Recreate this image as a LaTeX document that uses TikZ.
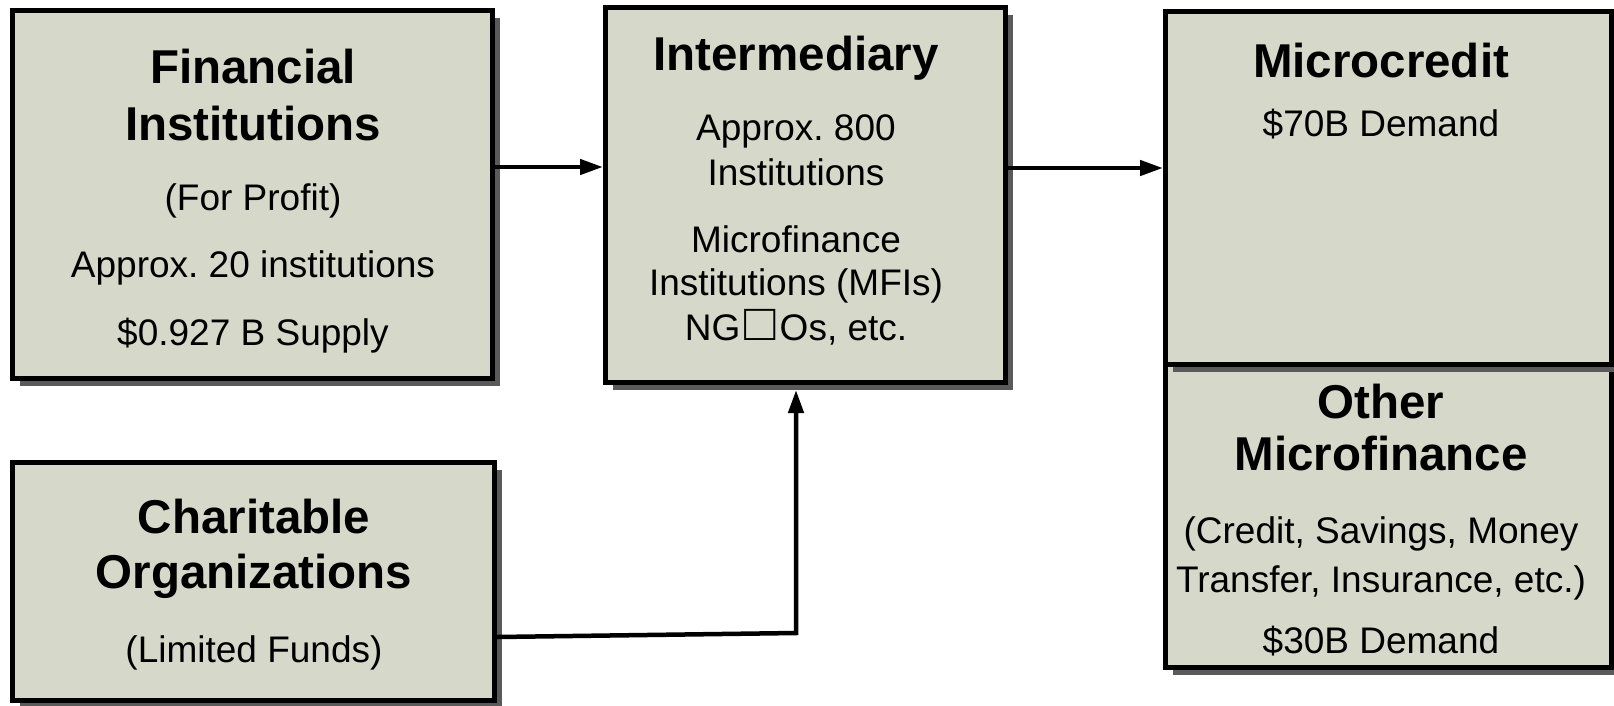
\documentclass[tikz,border=0pt]{standalone}
\usepackage{fontspec}
\setmainfont{Liberation Sans}
\usepackage{tikz}
\usetikzlibrary{positioning, arrows.meta, calc, shadows}
\frenchspacing

\definecolor{boxfill}{RGB}{214,217,201}
\definecolor{shadowgray}{RGB}{90,90,90}

\tikzset{
  box/.style={draw, line width=5pt, fill=boxfill, inner sep=0pt,
    drop shadow={shadow xshift=7.5pt, shadow yshift=-7.5pt, fill=shadowgray, opacity=1}},
  title/.style={anchor=base, font=\bfseries\fontsize{47.5}{57}\selectfont},
  body/.style={anchor=base, font=\fontsize{37}{44}\selectfont},
  flow/.style={line width=4.5pt, -{Triangle[length=23pt,width=15pt]}}
}

\begin{document}
\begin{tikzpicture}[x=1pt, y=-1pt]
\useasboundingbox (0,0) rectangle (1614,705);
\fill[white] (0,0) rectangle (1614,705);

% boxes
\node[box, minimum width=480pt, minimum height=368pt] (fin) at (252.5,194.5) {};
\node[box, minimum width=400pt, minimum height=375pt] (inter) at (805.5,195) {};
\node[box, minimum width=446pt, minimum height=303.5pt] (other) at (1388.5,515.75) {};
\node[box, minimum width=446pt, minimum height=352.5pt] (micro) at (1388.5,187.75) {};
\node[box, minimum width=482pt, minimum height=238pt] (charity) at (253.5,581.5) {};

% financial institutions
\node[title] (fin1) at (253,83) {Financial};
\node[title] (fin2) at (253,140) {Institutions};
\node[body] (fin3) at (253,210) {(For Profit)};
\node[body] (fin4) at (253,277) {Approx. 20 institutions};
\node[body] (fin5) at (253,345) {\$0.927 B Supply};

% intermediary
\node[title] (inter1) at (796,70) {Intermediary};
\node[body] (inter2) at (796,140) {Approx. 800};
\node[body] (inter3) at (796,185) {Institutions};
\node[body] (inter4) at (796,252) {Microfinance};
\node[body] (inter5) at (796,295) {Institutions (MFIs)};
\node[body] (inter6) at (796,340) {NG\kern4pt\smash{\fontsize{52}{44}\selectfont □}\kern4ptOs, etc.};

% demand side
\node[title] (micro1) at (1381,77) {Microcredit};
\node[body] (micro2) at (1381,136) {\$70B Demand};
\node[title] (other1) at (1381,418) {Other};
\node[title] (other2) at (1381,470) {Microfinance};
\node[body] (other3) at (1381,543) {(Credit, Savings, Money};
\node[body] (other4) at (1381,592) {Transfer, Insurance, etc.)};
\node[body] (other5) at (1381,653) {\$30B Demand};

% charitable organizations
\node[title] (charity1) at (254,533) {Charitable};
\node[title] (charity2) at (254,588) {Organizations};
\node[body] (charity3) at (254,662) {(Limited Funds)};

% connectors
\coordinate (a1) at ([yshift=27.5pt]fin.east);
\coordinate (a2) at ([yshift=27pt]inter.east);
\coordinate (a3) at ([yshift=-55.5pt]charity.east);
\coordinate (bend) at (796,633);
\draw[flow] (a1) -- (a1 -| inter.west);
\draw[flow] (a2) -- (a2 -| micro.west);
\draw[flow, shorten >=5pt] (a3) -- (bend) -- (bend |- inter.south);

\end{tikzpicture}
\end{document}
